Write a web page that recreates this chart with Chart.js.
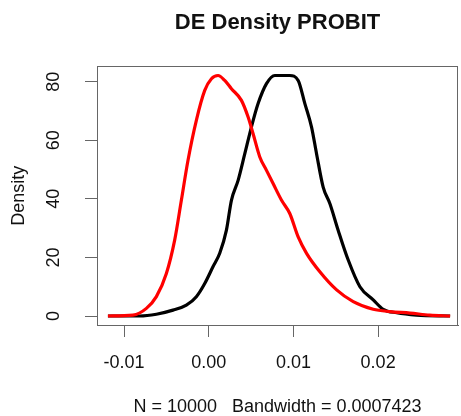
<!DOCTYPE html>
<html>
<head>
<meta charset="utf-8">
<script src="https://cdn.jsdelivr.net/npm/chart.js@4.4.1/dist/chart.umd.min.js"></script>
<style>
  body { margin: 0; background: #fff; }
</style>
</head>
<body>
<canvas id="chartDensity" width="461" height="416"></canvas>
<script>
// red curve
const redX = [-0.0119, -0.00895, -0.00736, -0.00618, -0.0050, -0.00402, -0.00323, -0.00245, -0.00146, -0.00047,
              0.00032, 0.0011, 0.00189, 0.00268, 0.00386, 0.00465, 0.00524, 0.00603, 0.00682, 0.0076,
              0.0086, 0.00957, 0.01056, 0.01155, 0.01312, 0.0151, 0.01706, 0.01942, 0.0214, 0.02376,
              0.0261, 0.0285];
const redY = [0, 0.3, 2.6, 6.6, 14.5, 25.9, 39.5, 53.1, 66.8, 77,
              81, 82.1, 80.4, 77.6, 73.6, 67.9, 62.2, 54.3, 49.7, 45.2,
              39.5, 35, 27, 21.4, 15.1, 8.9, 4.9, 2.3, 1.5, 1,
              0.3, 0];

// black curve
const blackX = [-0.0119, -0.00816, -0.00618, -0.00422, -0.00264, -0.00146, -0.00047, 0.0005, 0.0013, 0.00209,
                0.00268, 0.00347, 0.00426, 0.00504, 0.00583, 0.00682, 0.0078, 0.00957, 0.01056, 0.01135,
                0.01214, 0.01273, 0.01351, 0.0143, 0.01528, 0.01647, 0.01785, 0.01942, 0.0206, 0.02219,
                0.02455, 0.0285];
const blackY = [0, 0, 0.6, 2, 3.7, 6.6, 11.1, 16.8, 21.4, 29.3,
                39.5, 46.3, 55.4, 64.5, 72.5, 79.3, 82.1, 82.1, 80.4, 72.5,
                64.5, 55.4, 44, 38.4, 29.3, 19.1, 10, 5.5, 2.3, 1.1,
                0.3, 0];

const xTicks = [-0.01, 0, 0.01, 0.02];
const yTicks = [0, 20, 40, 60, 80];

function toPoints(xs, ys) {
    return xs.map((x, i) => ({ x: x, y: ys[i] }));
}

// box around the plot region
const boxPlugin = {
    id: 'box',
    afterDraw(chart) {
        const a = chart.chartArea;
        const ctx = chart.ctx;
        ctx.save();
        ctx.strokeStyle = '#666';
        ctx.lineWidth = 1;
        ctx.strokeRect(Math.round(a.left) + 0.5, Math.round(a.top) + 0.5,
            Math.round(a.right - a.left) - 1, Math.round(a.bottom - a.top));
        ctx.restore();
    }
};

Chart.defaults.font.family = '"Liberation Sans", Arial, sans-serif';
Chart.defaults.color = '#111';

new Chart(document.getElementById('chartDensity').getContext('2d'), {
    type: 'scatter',
    data: {
        datasets: [
            {
                data: toPoints(redX, redY),
                showLine: true,
                borderColor: '#ff0000',
                borderWidth: 3.2,
                pointRadius: 0,
                cubicInterpolationMode: 'monotone'
            },
            {
                data: toPoints(blackX, blackY),
                showLine: true,
                borderColor: '#000000',
                borderWidth: 3.2,
                pointRadius: 0,
                cubicInterpolationMode: 'monotone'
            }
        ]
    },
    options: {
        responsive: false,
        animation: false,
        layout: { padding: { left: 0, right: 3, top: 0, bottom: 0 } },
        plugins: {
            legend: { display: false },
            tooltip: { enabled: false },
            title: {
                display: true,
                fullSize: false,
                text: 'DE Density PROBIT',
                font: { size: 22, weight: 'bold' },
                color: '#111',
                padding: { top: 10, bottom: 30 }
            }
        },
        scales: {
            x: {
                type: 'linear',
                min: -0.01319,
                max: 0.02943,
                afterBuildTicks: s => { s.ticks = xTicks.map(v => ({ value: v })); },
                afterFit: s => { s.height = 91; },
                ticks: {
                    font: { size: 18 },
                    padding: 15,
                    maxRotation: 0,
                    callback: v => v.toFixed(2)
                },
                grid: { drawOnChartArea: false, drawTicks: true, tickLength: 12, color: '#666' },
                border: { display: true, color: '#666' },
                title: {
                    display: true,
                    text: 'N = 10000   Bandwidth = 0.0007423',
                    font: { size: 18 },
                    padding: { top: 0, bottom: -2 }
                }
            },
            y: {
                min: -3.07,
                max: 85.2,
                afterBuildTicks: s => { s.ticks = yTicks.map(v => ({ value: v })); },
                afterFit: s => { s.width = 97; },
                ticks: {
                    font: { size: 18 },
                    minRotation: 90,
                    maxRotation: 90,
                    crossAlign: 'center',
                    padding: 21
                },
                grid: { drawOnChartArea: false, drawTicks: true, tickLength: 12, color: '#666' },
                border: { display: true, color: '#666' },
                title: {
                    display: true,
                    text: 'Density',
                    font: { size: 18 },
                    padding: { top: 8, bottom: 0 }
                }
            }
        }
    },
    plugins: [boxPlugin]
});
</script>
</body>
</html>
